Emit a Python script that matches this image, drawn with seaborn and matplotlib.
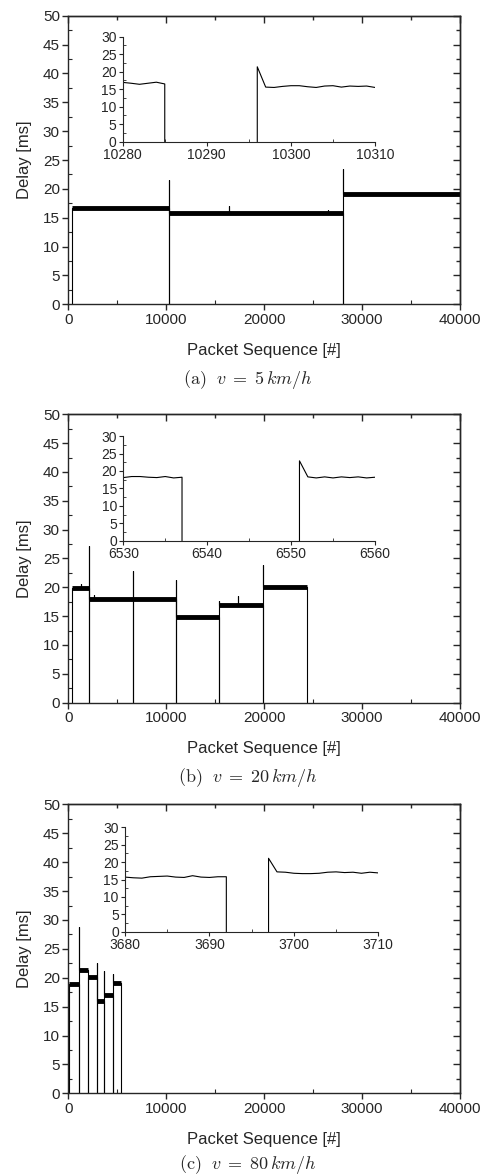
import numpy as np
import pandas as pd
import seaborn as sns
import matplotlib
matplotlib.use("Agg")
import matplotlib.pyplot as plt
from matplotlib.ticker import MultipleLocator

# (a) v = 5 km/h -- one step per serving cell
a_start = [340, 10280, 28090]
a_end = [10280, 28090, 40000]
a_level = [16.7, 15.8, 19.1]
a_spike = [np.nan, 21.5, 23.4]
a_blip_x = [16440, 26550]
a_blip_y = [17.1, 16.3]
a_zoom_x = [10280, 10281, 10282, 10283, 10284, 10285, 10285, 10296, 10296, 10297, 10298, 10299,
            10300, 10301, 10302, 10303, 10304, 10305, 10306, 10307, 10308, 10309, 10310]
a_zoom_y = [16.95, 16.7, 16.4, 16.7, 17.0, 16.5, 0, 0, 21.4, 15.6, 15.5, 15.8,
            16.0, 16.0, 15.7, 15.5, 15.9, 16.0, 15.6, 15.9, 15.8, 15.9, 15.5]

# (b) v = 20 km/h
b_start = [340, 2110, 6570, 11000, 15420, 19910]
b_end = [2110, 6570, 11000, 15420, 19910, 24340]
b_level = [19.9, 18.0, 18.0, 14.8, 16.9, 20.1]
b_spike = [np.nan, 27.2, 22.8, 21.3, 17.6, 23.8]
b_blip_x = [1350, 2600, 17300]
b_blip_y = [20.5, 18.7, 18.5]
b_zoom_x = [6530, 6531, 6532, 6533, 6534, 6535, 6536, 6537, 6537, 6551, 6551, 6552,
            6553, 6554, 6555, 6556, 6557, 6558, 6559, 6560]
b_zoom_y = [18.1, 18.4, 18.4, 18.2, 18.1, 18.4, 18.0, 18.2, 0, 0, 22.9, 18.3,
            18.0, 18.3, 18.0, 18.3, 18.1, 18.3, 18.0, 18.2]

# (c) v = 80 km/h
c_start = [100, 1120, 1980, 2900, 3680, 4540]
c_end = [1120, 1980, 2900, 3680, 4540, 5380]
c_level = [18.9, 21.3, 20.2, 16.0, 17.0, 19.1]
c_spike = [np.nan, 28.7, np.nan, 22.5, 21.2, 20.6]
c_blip_x = []
c_blip_y = []
c_zoom_x = [3680, 3681, 3682, 3683, 3684, 3685, 3686, 3687, 3688, 3689, 3690, 3691, 3692, 3692,
            3697, 3697, 3698, 3699, 3700, 3701, 3702, 3703, 3704, 3705, 3706, 3707, 3708, 3709, 3710]
c_zoom_y = [15.7, 15.5, 15.4, 15.8, 15.9, 16.0, 15.7, 15.6, 16.1, 15.7, 15.6, 15.8, 15.8, 0,
            0, 21.1, 17.2, 17.1, 16.8, 16.7, 16.7, 16.8, 17.1, 17.2, 17.0, 17.1, 16.8, 17.1, 16.9]

x_ticks = [0, 10000, 20000, 30000, 40000]
y_ticks = [0, 5, 10, 15, 20, 25, 30, 35, 40, 45, 50]
zoom_y_ticks = [0, 5, 10, 15, 20, 25, 30]
captions = [r"$\mathrm{(a)}\ \ v\;=\;5\,km/h$", r"$\mathrm{(b)}\ \ v\;=\;20\,km/h$",
            r"$\mathrm{(c)}\ \ v\;=\;80\,km/h$"]


def build_trace(starts, ends, levels, spikes, blip_x, blip_y):
    xs, ys = [], []
    for s, e, lv, sp in zip(starts, ends, levels, spikes):
        xs += [s, s]
        ys += [0, lv if np.isnan(sp) else sp]
        if not np.isnan(sp):
            xs.append(s)
            ys.append(lv)
        for bx, by in zip(blip_x, blip_y):
            if s < bx < e:
                xs += [bx, bx, bx]
                ys += [lv, by, lv]
        xs += [e, e]
        ys += [lv, 0]
    return pd.DataFrame({"seq": xs, "delay": ys})


def split_gap(xs, ys):
    # the lost packets sit on the axis: cut the line there so it does not double the spine
    for k in range(len(ys) - 1):
        if ys[k] == 0 and ys[k + 1] == 0:
            return [(xs[:k + 1], ys[:k + 1]), (xs[k + 1:], ys[k + 1:])]
    return [(xs, ys)]


sns.set_style("ticks")
plt.rcParams['font.family'] = ['Liberation Sans', 'DejaVu Sans']
plt.rcParams['mathtext.fontset'] = 'cm'
plt.rcParams['axes.linewidth'] = 1.0

fig = plt.figure(figsize=(4.91, 11.76), dpi=100)

panels = [
    (a_start, a_end, a_level, a_spike, a_blip_x, a_blip_y, a_zoom_x, a_zoom_y),
    (b_start, b_end, b_level, b_spike, b_blip_x, b_blip_y, b_zoom_x, b_zoom_y),
    (c_start, c_end, c_level, c_spike, c_blip_x, c_blip_y, c_zoom_x, c_zoom_y),
]
main_boxes = [[0.139, 0.7412, 0.798, 0.2454],
              [0.139, 0.4025, 0.798, 0.2452],
              [0.139, 0.0703, 0.798, 0.2457]]
inset_boxes = [[0.2499, 0.8795, 0.5139, 0.0893],
               [0.2511, 0.5402, 0.5126, 0.0890],
               [0.2546, 0.2077, 0.5159, 0.0888]]
caption_y = [0.677, 0.3385, 0.0098]

for i, (st, en, lv, sp, bx, by, zx, zy) in enumerate(panels):
    ax = fig.add_axes(main_boxes[i])
    df = build_trace(st, en, lv, sp, bx, by)
    sns.lineplot(data=df, x="seq", y="delay", sort=False, estimator=None,
                 color="black", linewidth=0.8, ax=ax)
    # the dense per-packet jitter shows up as a thick band
    for s, e, l in zip(st, en, lv):
        sns.lineplot(x=[s, e], y=[l, l], color="black", linewidth=3.5,
                     solid_capstyle="butt", ax=ax)
    ax.set_xlim(0, 40000)
    ax.set_ylim(0, 50)
    ax.set_xticks(x_ticks)
    ax.set_yticks(y_ticks)
    ax.xaxis.set_minor_locator(MultipleLocator(5000))
    ax.yaxis.set_minor_locator(MultipleLocator(2.5))
    ax.tick_params(which="major", direction="out", length=4, width=1.0, labelsize=11, pad=2)
    ax.tick_params(which="minor", direction="in", length=3, width=0.8)
    ax.set_xlabel("Packet Sequence [#]", fontsize=12)
    ax.set_ylabel("Delay [ms]", fontsize=12)
    ax.xaxis.label.set_va("center")
    ax.yaxis.label.set_va("center")
    ax.xaxis.set_label_coords(0.5, -0.159)
    ax.yaxis.set_label_coords(-0.111, 0.5)

    top = ax.secondary_xaxis("top")
    top.set_xticks(x_ticks)
    top.xaxis.set_minor_locator(MultipleLocator(5000))
    top.tick_params(which="both", direction="in", labeltop=False, width=1.0)
    top.tick_params(which="major", length=5)
    top.tick_params(which="minor", length=3)
    right = ax.secondary_yaxis("right")
    right.set_yticks(y_ticks)
    right.yaxis.set_minor_locator(MultipleLocator(2.5))
    right.tick_params(which="both", direction="in", labelright=False, width=1.0)
    right.tick_params(which="major", length=5)
    right.tick_params(which="minor", length=3)

    ins = fig.add_axes(inset_boxes[i])
    ins.patch.set_alpha(0)
    for px, py in split_gap(zx, zy):
        sns.lineplot(x=px, y=py, sort=False, estimator=None, color="black", linewidth=0.8, ax=ins)
    ins.set_xlim(zx[0], zx[-1])
    ins.set_ylim(0, 30)
    ins.set_xticks(list(range(zx[0], zx[-1] + 1, 10)))
    ins.set_yticks(zoom_y_ticks)
    ins.xaxis.set_minor_locator(MultipleLocator(5))
    ins.yaxis.set_minor_locator(MultipleLocator(2.5))
    ins.tick_params(which="major", direction="out", length=3, width=0.8, labelsize=10, pad=1.5)
    ins.tick_params(which="minor", direction="in", length=2, width=0.6)
    for side in ["top", "right"]:
        ins.spines[side].set_visible(False)
    for side in ["left", "bottom"]:
        ins.spines[side].set_linewidth(0.8)
    ins.set_xlabel("")
    ins.set_ylabel("")

    fig.text(0.505, caption_y[i], captions[i], ha="center", va="center", fontsize=13)

fig.savefig("out.png", dpi=100)
